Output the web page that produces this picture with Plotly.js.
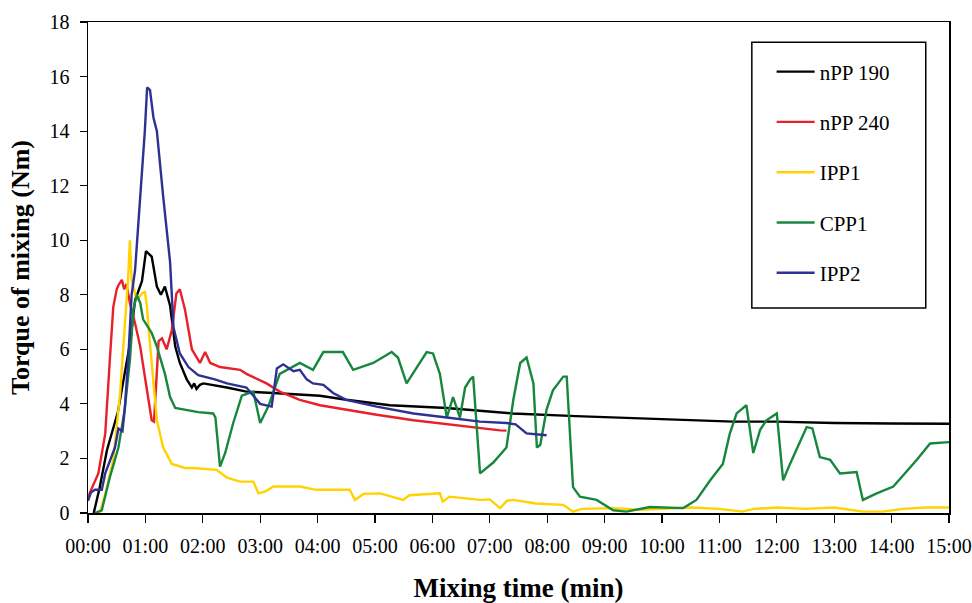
<!DOCTYPE html>
<html>
<head>
<meta charset="utf-8">
<script src="https://cdn.plot.ly/plotly-3.0.1.min.js"></script>
<style>
  html, body { margin: 0; padding: 0; background: #ffffff; }
  #chart { width: 972px; height: 603px; }
</style>
</head>
<body>
<div id="chart"></div>
<script>
// Torque of mixing (Nm) against mixing time (minutes); each entry is [time, torque].
const nPP190 = [[0.1,0],[0.2,0.9],[0.33,2.3],[0.52,3.7],[0.73,6.2],[0.82,7.8],[0.94,8.5],[1.01,9.6],[1.06,9.5],[1.11,9.4],[1.2,8.3],[1.27,8.0],[1.34,8.3],[1.43,7.6],[1.52,6.1],[1.6,5.5],[1.72,4.9],[1.81,4.6],[1.85,4.75],[1.89,4.55],[1.95,4.7],[2.01,4.75],[2.42,4.6],[2.76,4.45],[3.22,4.4],[3.6,4.35],[4.04,4.3],[4.5,4.15],[5.26,3.95],[6.25,3.85],[7.4,3.65],[8.5,3.55],[9.15,3.5],[10.0,3.45],[11.24,3.35],[12.0,3.35],[13.0,3.3],[14.0,3.28],[15.0,3.27]];
const nPP240 = [[0,0.5],[0.03,0.73],[0.18,1.45],[0.3,2.9],[0.38,5.6],[0.44,7.55],[0.5,8.2],[0.53,8.35],[0.59,8.55],[0.63,8.2],[0.67,8.4],[0.73,7.7],[0.82,6.95],[0.91,6.1],[1.02,4.6],[1.11,3.4],[1.15,3.35],[1.19,5.0],[1.23,6.3],[1.29,6.4],[1.37,6.0],[1.46,6.7],[1.54,8.05],[1.6,8.2],[1.69,7.45],[1.81,6.0],[1.95,5.5],[2.04,5.9],[2.13,5.5],[2.3,5.35],[2.53,5.3],[2.65,5.25],[2.76,5.1],[3.11,4.75],[3.34,4.45],[3.69,4.15],[4.04,3.95],[4.5,3.78],[5.03,3.6],[5.67,3.4],[6.25,3.25],[6.8,3.12],[7.18,3.03],[7.29,3.02]];
const IPP1 = [[0.15,0],[0.21,0.05],[0.3,0.7],[0.44,1.95],[0.56,4.4],[0.64,6.8],[0.7,8.65],[0.73,10.0],[0.76,8.55],[0.85,7.8],[0.94,8.05],[0.99,8.1],[1.02,7.7],[1.08,6.2],[1.14,4.75],[1.2,3.4],[1.31,2.4],[1.46,1.8],[1.69,1.65],[1.83,1.65],[2.24,1.58],[2.42,1.3],[2.65,1.15],[2.88,1.15],[2.97,0.72],[3.1,0.8],[3.23,0.97],[3.69,0.97],[3.98,0.85],[4.56,0.85],[4.65,0.48],[4.8,0.7],[5.09,0.72],[5.49,0.48],[5.6,0.65],[6.13,0.72],[6.18,0.42],[6.3,0.6],[6.83,0.48],[7.0,0.5],[7.18,0.18],[7.3,0.45],[7.41,0.48],[7.8,0.35],[8.28,0.3],[8.45,0.05],[8.6,0.15],[9.15,0.18],[9.6,0.12],[10.0,0.15],[10.5,0.2],[11.0,0.15],[11.4,0.05],[11.6,0.15],[12.0,0.2],[12.5,0.15],[13.0,0.2],[13.5,0.05],[13.85,0.05],[14.2,0.15],[14.6,0.2],[15.0,0.2]];
const CPP1 = [[0.12,0],[0.24,0.1],[0.38,1.3],[0.53,2.4],[0.64,3.8],[0.73,5.6],[0.79,7.45],[0.85,8.0],[0.91,7.7],[0.96,7.1],[1.11,6.6],[1.2,6.1],[1.34,5.1],[1.43,4.25],[1.52,3.85],[1.92,3.7],[2.18,3.65],[2.22,3.5],[2.3,1.7],[2.39,2.2],[2.53,3.3],[2.68,4.3],[2.88,4.45],[3.0,3.3],[3.14,3.9],[3.2,4.25],[3.34,5.1],[3.69,5.5],[3.92,5.25],[4.1,5.9],[4.44,5.9],[4.62,5.25],[4.97,5.5],[5.29,5.9],[5.4,5.7],[5.55,4.75],[5.78,5.5],[5.9,5.9],[6.01,5.85],[6.13,5.1],[6.25,3.5],[6.36,4.25],[6.48,3.5],[6.57,4.6],[6.66,4.9],[6.71,5.0],[6.83,1.45],[7.06,1.85],[7.29,2.4],[7.41,4.15],[7.53,5.5],[7.64,5.7],[7.76,4.75],[7.82,2.4],[7.88,2.5],[7.99,3.8],[8.1,4.5],[8.28,5.0],[8.34,5.0],[8.45,0.95],[8.57,0.6],[8.86,0.48],[9.15,0.1],[9.38,0.05],[9.79,0.22],[10.37,0.18],[10.6,0.48],[10.84,1.2],[11.06,1.8],[11.18,2.9],[11.3,3.65],[11.47,3.95],[11.59,2.2],[11.71,3.05],[11.82,3.4],[12.0,3.65],[12.11,1.2],[12.23,1.8],[12.52,3.15],[12.62,3.1],[12.75,2.05],[12.93,1.95],[13.1,1.45],[13.39,1.5],[13.5,0.48],[13.74,0.72],[14.03,0.97],[14.44,1.95],[14.67,2.55],[15.0,2.6]];
const IPP2 = [[0,0.45],[0.05,0.75],[0.12,0.85],[0.24,0.85],[0.3,1.45],[0.47,2.4],[0.53,3.1],[0.6,3.0],[0.64,3.8],[0.7,5.6],[0.76,8.0],[0.82,8.9],[0.91,11.6],[0.99,14.0],[1.03,15.6],[1.08,15.5],[1.14,14.5],[1.2,14.0],[1.31,11.6],[1.37,10.5],[1.43,9.2],[1.49,6.8],[1.6,5.85],[1.75,5.35],[1.92,5.05],[2.21,4.9],[2.42,4.75],[2.76,4.6],[3.0,4.0],[3.2,3.9],[3.29,5.3],[3.4,5.45],[3.58,5.2],[3.69,5.25],[3.81,4.9],[3.92,4.75],[4.1,4.7],[4.27,4.4],[4.5,4.15],[5.03,3.9],[5.67,3.65],[6.25,3.5],[6.83,3.35],[7.29,3.3],[7.45,3.25],[7.64,2.92],[7.99,2.85]];

const seriesNames = ['nPP 190', 'nPP 240', 'IPP1', 'CPP1', 'IPP2'];
const seriesData = [nPP190, nPP240, IPP1, CPP1, IPP2];
const seriesColors = ['#000000', '#e8202a', '#ffd200', '#17873f', '#2e3192'];

const tickMinutes = [0,1,2,3,4,5,6,7,8,9,10,11,12,13,14,15];
const tickLabels = ['00:00','01:00','02:00','03:00','04:00','05:00','06:00','07:00','08:00','09:00','10:00','11:00','12:00','13:00','14:00','15:00'];

const serif = 'Liberation Serif, serif';

const traces = seriesData.map((pts, i) => ({
  type: 'scatter',
  mode: 'lines',
  name: seriesNames[i],
  legendgroup: 'g' + i,
  x: pts.map(p => p[0]),
  y: pts.map(p => p[1]),
  line: { color: seriesColors[i], width: 2.4 },
  hoverinfo: 'x+y+name'
}));

const layout = {
  width: 972,
  height: 603,
  margin: { l: 88, r: 23, t: 22, b: 90, pad: 0 },
  paper_bgcolor: '#ffffff',
  plot_bgcolor: '#ffffff',
  font: { family: serif, color: '#000000', size: 19 },
  showlegend: true,
  legend: {
    x: 0.794, y: 0.94, xanchor: 'left', yanchor: 'top',
    bgcolor: 'rgba(0,0,0,0)', borderwidth: 0,
    itemwidth: 38,
    font: { family: serif, size: 21, color: '#000000' },
    tracegroupgap: 20
  },
  shapes: [{
    type: 'rect', xref: 'paper', yref: 'paper',
    x0: 0.771, x1: 0.973, y0: 0.4175, y1: 0.959,
    line: { color: '#000000', width: 1.5 }, fillcolor: 'rgba(0,0,0,0)'
  }],
  xaxis: {
    range: [0, 15],
    tickmode: 'array', tickvals: tickMinutes, ticktext: tickLabels,
    ticks: 'outside', ticklen: 8, tickwidth: 1.2, tickcolor: '#000000',
    ticklabelstandoff: 6,
    showline: true, linecolor: '#000000', linewidth: 1.5, mirror: true,
    showgrid: false, zeroline: false,
    tickfont: { family: serif, size: 20, color: '#000000' },
    title: { text: 'Mixing time (min)', font: { family: serif, size: 27, color: '#000000', weight: 'bold' }, standoff: 26 }
  },
  yaxis: {
    range: [0, 18], dtick: 2, tick0: 0,
    ticks: 'outside', ticklen: 7, tickwidth: 1.2, tickcolor: '#000000',
    ticklabelstandoff: 6,
    showline: true, linecolor: '#000000', linewidth: 1.5, mirror: true,
    showgrid: false, zeroline: false,
    tickfont: { family: serif, size: 20, color: '#000000' },
    title: { text: 'Torque of mixing (Nm)', font: { family: serif, size: 26, color: '#000000', weight: 'bold' }, standoff: 12 }
  }
};

Plotly.newPlot('chart', traces, layout, { staticPlot: true, displayModeBar: false });
</script>
</body>
</html>
